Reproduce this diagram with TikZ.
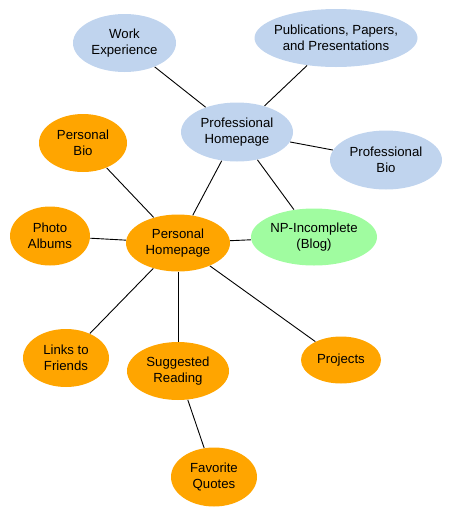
\documentclass[tikz,border=0pt]{standalone}
\usepackage{fontspec}
\setmainfont{Liberation Sans}
\usetikzlibrary{shapes.geometric}

\definecolor{proBlue}{RGB}{192,212,238}
\definecolor{perOrange}{RGB}{255,165,0}
\definecolor{blogGreen}{RGB}{160,252,160}

\tikzset{every picture/.style={line width=0.75pt}}
\tikzset{
  bubble/.style={ellipse,inner xsep=-8pt,inner ysep=0pt,align=center,font=\fontsize{13.2}{16}\selectfont},
  probubble/.style={bubble,fill=proBlue},
  perbubble/.style={bubble,fill=perOrange},
  blogbubble/.style={bubble,fill=blogGreen},
  link/.style={draw=black,line width=0.9pt}
}

\begin{document}
\begin{tikzpicture}[x=1pt,y=1pt,yscale=-1,xscale=1]
\useasboundingbox (0,0) rectangle (451,515);

%Shape: Ellipse (professional side)
\node [probubble,minimum width=112pt,minimum height=59pt] (proHome) at (237,132) {Professional\\Homepage};
\node [probubble,minimum width=103pt,minimum height=58pt] (workExp) at (124.5,43) {Work\\Experience};
\node [probubble,minimum width=163pt,minimum height=58pt] (pubs) at (336,38) {Publications, Papers,\\and Presentations};
\node [probubble,minimum width=112pt,minimum height=59pt] (proBio) at (386,160) {Professional\\Bio};

%Shape: Ellipse (blog)
\node [blogbubble,minimum width=126pt,minimum height=57pt] (blog) at (314,237) {NP-Incomplete\\(Blog)};

%Shape: Ellipse (personal side)
\node [perbubble,minimum width=104pt,minimum height=57pt] (perHome) at (178,243) {Personal\\Homepage};
\node [perbubble,minimum width=88pt,minimum height=58pt] (perBio) at (83,143) {Personal\\Bio};
\node [perbubble,minimum width=80pt,minimum height=59pt] (photos) at (50,236) {Photo\\Albums};
\node [perbubble,minimum width=86pt,minimum height=58pt] (friends) at (66,358) {Links to\\Friends};
\node [perbubble,minimum width=102pt,minimum height=58pt] (reading) at (178,371) {Suggested\\Reading};
\node [perbubble,minimum width=80pt,minimum height=47pt] (projects) at (341,360) {Projects};
\node [perbubble,minimum width=86pt,minimum height=59pt] (quotes) at (214,477) {Favorite\\Quotes};

%Straight Lines
\draw [link] (proHome) -- (workExp);
\draw [link] (proHome) -- (pubs);
\draw [link] (proHome) -- (proBio);
\draw [link] (proHome) -- (blog);
\draw [link] (proHome) -- (perHome);
\draw [link] (perHome) -- (blog);
\draw [link] (perHome) -- (perBio);
\draw [link] (perHome) -- (photos);
\draw [link] (perHome) -- (friends);
\draw [link] (perHome) -- (reading);
\draw [link] (perHome) -- (projects);
\draw [link] (reading) -- (quotes);

\end{tikzpicture}
\end{document}
